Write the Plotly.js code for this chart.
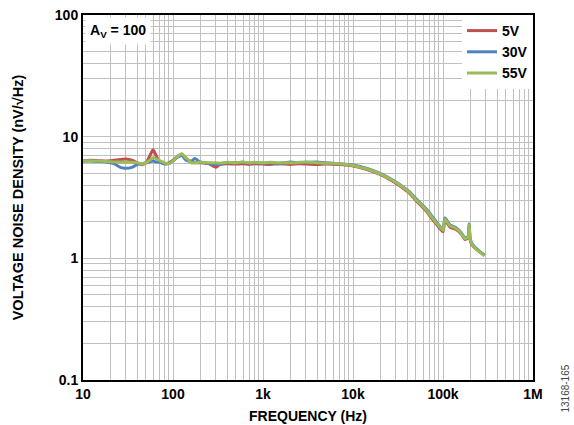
<!DOCTYPE html>
<html>
<head>
<meta charset="utf-8">
<script src="https://cdn.plot.ly/plotly-3.0.1.min.js"></script>
<style>html,body{margin:0;padding:0;background:#fff;}#chart{width:574px;height:425px;}</style>
</head>
<body>
<div id="chart"></div>
<script>
const freq = [10, 12, 15, 18, 22, 26, 30, 35, 40, 45, 50, 55, 60, 65, 70, 80, 90, 100, 110, 125, 140, 160, 175, 200, 250, 300, 330, 400, 500, 600, 700, 800, 1000, 1200, 1500, 2000, 2500, 3000, 4000, 5000, 7000, 10000, 14000, 20000, 27000, 33000, 42000, 51000, 65000, 78000, 90000, 100000, 105000, 120000, 141000, 160000, 175000, 190000, 195000, 200000, 208000, 230000, 260000, 288000];

const v5V = [6.3, 6.4, 6.35, 6.3, 6.4, 6.5, 6.55, 6.4, 6.1, 5.9, 6.1, 6.9, 7.8, 7.0, 6.3, 6.0, 6.1, 6.4, 6.8, 7.2, 6.6, 6.2, 6.1, 6.1, 6.0, 5.6, 5.9, 6.0, 5.95, 6.0, 5.9, 6.0, 5.95, 5.9, 6.0, 5.9, 6.0, 5.95, 5.9, 5.95, 5.9, 5.75, 5.4, 4.9, 4.35, 3.95, 3.45, 2.95, 2.45, 2.05, 1.8, 1.65, 2.05, 1.8, 1.72, 1.58, 1.43, 1.48, 1.85, 1.43, 1.3, 1.2, 1.12, 1.06];

const v30V = [6.3, 6.3, 6.25, 6.2, 6.0, 5.6, 5.5, 5.6, 5.9, 6.0, 6.1, 6.2, 6.3, 6.2, 6.2, 6.0, 6.0, 6.3, 6.7, 7.0, 6.4, 6.3, 6.6, 6.2, 6.0, 5.9, 5.9, 6.1, 6.1, 6.15, 6.05, 6.1, 6.05, 6.1, 6.0, 6.2, 6.1, 6.15, 6.2, 6.1, 6.0, 5.85, 5.5, 5.0, 4.45, 4.05, 3.55, 3.05, 2.55, 2.15, 1.88, 1.72, 2.15, 1.88, 1.78, 1.62, 1.47, 1.52, 1.92, 1.47, 1.34, 1.22, 1.13, 1.06];

const v55V = [6.3, 6.35, 6.3, 6.25, 6.2, 6.2, 6.15, 6.15, 6.1, 6.0, 6.1, 6.4, 6.7, 6.6, 6.4, 6.1, 6.0, 6.3, 6.8, 7.2, 6.7, 6.1, 6.1, 6.15, 6.1, 6.1, 6.05, 6.15, 6.1, 6.2, 6.1, 6.15, 6.1, 6.15, 6.1, 6.1, 6.15, 6.2, 6.1, 6.05, 6.0, 5.8, 5.45, 4.95, 4.4, 4.0, 3.5, 3.0, 2.5, 2.1, 1.85, 1.7, 2.1, 1.85, 1.75, 1.6, 1.45, 1.5, 1.9, 1.45, 1.32, 1.2, 1.12, 1.05];

const seriesNames = ["5V", "30V", "55V"];
const seriesColors = ["#c0504d", "#4f81bd", "#9bbb59"];
const xTickVals = [10, 100, 1000, 10000, 100000, 1000000];
const xTickText = ["10", "100", "1k", "10k", "100k", "1M"];
const yTickVals = [0.1, 1, 10, 100];
const yTickText = ["0.1", "1", "10", "100"];

function minorVals(lo, hi) {
  const out = [];
  for (let d = lo; d < hi; d *= 10) {
    for (let k = 2; k <= 9; k++) out.push(d * k);
  }
  return out;
}

const values = [v5V, v30V, v55V];
const traces = values.map((v, i) => ({
  x: freq, y: v, type: "scatter", mode: "lines", name: seriesNames[i],
  line: {color: seriesColors[i], width: 3, shape: "spline", smoothing: 0.6}
}));

const FAM = "Arial, 'Liberation Sans', sans-serif";
const font = {family: FAM, size: 14, color: "#000", weight: "bold"};
const yTitleFont = {family: FAM, size: 14.5, color: "#000", weight: "bold"};
const gridColor = "#c0c0c0";

const layout = {
  width: 574, height: 425,
  margin: {l: 83, r: 41, t: 15, b: 45},
  paper_bgcolor: "#fff", plot_bgcolor: "#fff",
  font: font,
  showlegend: true,
  legend: {x: 1, xanchor: "right", y: 1, yanchor: "top", bgcolor: "#fff",
           font: font, borderwidth: 0, itemwidth: 30, tracegroupgap: 0},
  xaxis: {
    type: "log", range: [1, 6],
    tickmode: "array", tickvals: xTickVals, ticktext: xTickText,
    tickfont: font, ticks: "", ticklen: 0,
    showgrid: true, gridcolor: gridColor, gridwidth: 1,
    minor: {tickmode: "array", tickvals: minorVals(10, 1000000), showgrid: true, gridcolor: gridColor, gridwidth: 1, ticks: ""},
    showline: true, mirror: true, linecolor: "#000", linewidth: 2,
    zeroline: false,
    title: {text: "FREQUENCY (Hz)", font: font, standoff: 10}
  },
  yaxis: {
    type: "log", range: [-1, 2],
    tickmode: "array", tickvals: yTickVals, ticktext: yTickText,
    tickfont: font, ticks: "", ticklen: 0,
    showgrid: true, gridcolor: gridColor, gridwidth: 1,
    minor: {tickmode: "array", tickvals: minorVals(0.1, 100), showgrid: true, gridcolor: gridColor, gridwidth: 1, ticks: ""},
    showline: true, mirror: true, linecolor: "#000", linewidth: 2,
    zeroline: false,
    title: {text: "VOLTAGE NOISE DENSITY (nV/√Hz)", font: yTitleFont, standoff: 28}
  },
  annotations: [
    {xref: "paper", yref: "paper", x: 0.004, y: 0.995, xanchor: "left", yanchor: "top",
     text: "A<sub>V</sub> = 100", showarrow: false, bgcolor: "#fff", borderpad: 4, font: font},
    {xref: "paper", yref: "paper", x: 1.073, y: -0.095, xanchor: "center", yanchor: "bottom",
     text: "13168-165", textangle: -90, showarrow: false,
     font: {family: FAM, size: 10, color: "#444", weight: "normal"}}
  ]
};

Plotly.newPlot("chart", traces, layout, {staticPlot: true, displayModeBar: false});
</script>
</body>
</html>
